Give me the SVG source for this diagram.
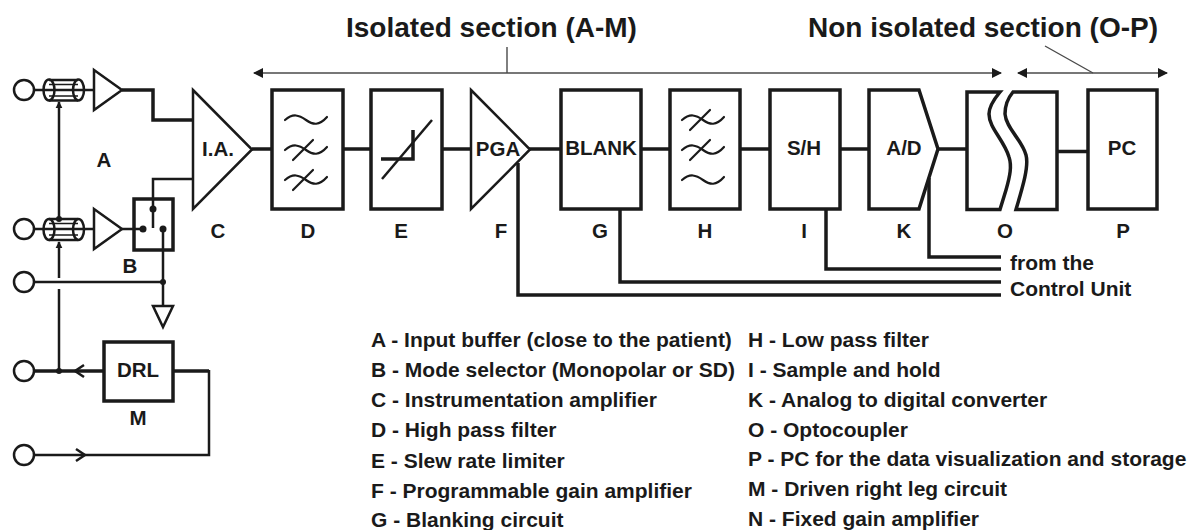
<svg xmlns="http://www.w3.org/2000/svg" width="1187" height="530" viewBox="0 0 1187 530">
<style>
text{font-family:"Liberation Sans",Arial,sans-serif;font-weight:bold;fill:#1a1a1a}
.lb{font-size:20.5px;text-anchor:middle}
.bl{font-size:20.5px;text-anchor:middle}
.lg{font-size:21px}
.ti{font-size:28px}
.b{fill:#fff;stroke:#1a1a1a;stroke-width:3.5}
.t{fill:#fff;stroke:#1a1a1a;stroke-width:2.5;stroke-linejoin:miter}
.c{fill:#fff;stroke:#1a1a1a;stroke-width:2.5}
.w{fill:none;stroke:#1a1a1a;stroke-width:3.5}
.n{fill:none;stroke:#1a1a1a;stroke-width:2.5}
.i{fill:none;stroke:#1a1a1a;stroke-width:1.5}
.f{fill:none;stroke:#4a4a4a;stroke-width:1.4}
.s{fill:none;stroke:#1a1a1a;stroke-width:2.2;stroke-linecap:round}
.d{fill:#1a1a1a}
</style>
<defs>
<marker id="ah" viewBox="0 0 10 10" refX="9" refY="5" markerWidth="11" markerHeight="10" markerUnits="userSpaceOnUse" orient="auto-start-reverse"><path d="M0,0L10,5L0,10Z" fill="#1a1a1a"/></marker>
<marker id="sh" viewBox="0 0 10 10" refX="9" refY="5" markerWidth="7" markerHeight="8" markerUnits="userSpaceOnUse" orient="auto"><path d="M0,0L10,5L0,10Z" fill="#1a1a1a"/></marker>
<path id="tilde" d="M285,0c8,-7 14,-5 21,0c7,5 13,6 21,-3"/>
<path id="tildex" d="M285,0c8,-7 14,-5 21,0c7,5 13,6 21,-3M293,10L313,-10"/>
</defs>
<g id="connectors">
<path class="n" d="M34,90H43M84,90H94"/>
<path class="n" d="M34,229H43M84,229H94"/>
<path class="w" d="M122,90H153V120H193"/>
<path class="w" d="M252,149H272M343,149H371M442,149H471M529,149H561M641,149H670M740,149H770M840,149H869M938,149H968M1057,151.500H1087"/>
<path class="n" d="M163,229V306M34,282H163"/>
<path class="n" d="M59,219V102" marker-end="url(#sh)"/>
<path class="n" d="M59,278V242" marker-end="url(#sh)"/>
<path class="n" d="M59,289V371"/>
<path class="w" d="M34,371H104"/>
<path class="n" d="M84,365L75,371L84,377"/>
<path class="w" d="M173,371H209"/>
<path class="n" d="M209,370V455H34"/>
<path class="n" d="M76,449L85,455L76,461"/>
<path class="w" d="M518,163V295H1001"/>
<path class="w" d="M620,209V282H1001"/>
<path class="w" d="M826,209V269H1001"/>
<path class="w" d="M929,178V257H1001"/>
<path class="f" d="M254,73H1001" marker-start="url(#ah)" marker-end="url(#ah)"/>
<path class="f" d="M1018,73H1167" marker-start="url(#ah)" marker-end="url(#ah)"/>
<path class="f" d="M507,47V73M1045,46L1093,73"/>
</g>
<g id="terminals">
<circle class="c" cx="24" cy="90" r="10"/>
<circle class="c" cx="24" cy="229" r="10"/>
<circle class="c" cx="24" cy="282" r="10"/>
<circle class="c" cx="24" cy="371" r="10"/>
<circle class="c" cx="24" cy="455" r="10"/>
</g>
<g id="shield-top">
<ellipse class="n" cx="49" cy="90" rx="5.500" ry="10.500"/>
<ellipse class="n" cx="78.500" cy="90" rx="5.500" ry="10.500"/>
<path class="n" d="M49,80H78M49,100.500H78"/>
<path class="i" d="M49,84.500H78M49,96H78"/>
<path class="n" d="M43,90H84"/>
</g>
<g id="shield-bottom">
<ellipse class="n" cx="49" cy="229.500" rx="5.500" ry="10.500"/>
<ellipse class="n" cx="78.500" cy="229.500" rx="5.500" ry="10.500"/>
<path class="n" d="M49,219H78M49,240H78"/>
<path class="i" d="M49,223.500H78M49,235H78"/>
<path class="n" d="M43,229H84"/>
</g>
<g id="A">
<path class="t" d="M94,70L122,90L94,110Z"/>
<path class="t" d="M94,209L122,229L94,249Z"/>
<text class="lb" x="104" y="167">A</text>
</g>
<g id="B">
<rect class="b" x="134" y="199" width="39" height="51"/>
<path class="n" d="M193,179H153V228M122,229H143M163,229V250"/>
<circle class="d" cx="143" cy="229" r="3.500"/>
<circle class="d" cx="163" cy="229" r="3.500"/>
<circle class="d" cx="153" cy="209" r="3.500"/>
<text class="lb" x="130" y="273">B</text>
</g>
<g id="ground">
<circle class="d" cx="163" cy="282" r="3"/>
<path class="t" d="M153,306H173L163,327Z"/>
</g>
<g id="junctions">
<circle class="d" cx="59" cy="219" r="3"/>
<circle class="d" cx="59" cy="371" r="3"/>
</g>
<g id="C">
<path class="t" d="M193,90L252,149.500L193,209Z"/>
<text class="bl" x="218" y="156">I.A.</text>
<text class="lb" x="218" y="238">C</text>
</g>
<g id="D">
<rect class="b" x="272" y="90" width="71" height="119"/>
<use class="s" href="#tilde" y="120"/>
<use class="s" href="#tildex" y="150"/>
<use class="s" href="#tildex" y="180"/>
<text class="lb" x="308" y="238">D</text>
</g>
<g id="E">
<rect class="b" x="371" y="90" width="71" height="119"/>
<path class="n" d="M382,179L432,120"/>
<path class="w" d="M381,159H413V130"/>
<text class="lb" x="401" y="238">E</text>
</g>
<g id="F">
<path class="t" d="M471,90L530,149.500L471,209Z"/>
<text class="bl" x="498" y="156">PGA</text>
<text class="lb" x="501" y="238">F</text>
</g>
<g id="G">
<rect class="b" x="561" y="90" width="80" height="119"/>
<text class="bl" x="601" y="155">BLANK</text>
<text class="lb" x="600" y="238">G</text>
</g>
<g id="H">
<rect class="b" x="670" y="90" width="70" height="119"/>
<use class="s" href="#tildex" x="397" y="120"/>
<use class="s" href="#tildex" x="397" y="150"/>
<use class="s" href="#tilde" x="397" y="180"/>
<text class="lb" x="705" y="238">H</text>
</g>
<g id="I">
<rect class="b" x="770" y="90" width="70" height="119"/>
<text class="bl" x="804" y="155">S/H</text>
<text class="lb" x="804" y="238">I</text>
</g>
<g id="K">
<path class="b" d="M869,90H919L938,149L919,209H869Z"/>
<text class="bl" x="904" y="155">A/D</text>
<text class="lb" x="904" y="238">K</text>
</g>
<g id="O">
<path class="b" stroke-width="3" d="M1000,92H967V209.500H1000L1006,190C1010,176 1012,166 1009,157C1004,140 989,128 989,114C989,106 995,98 1000,92Z"/>
<path class="b" stroke-width="3" d="M1057,92H1013C1008,98 1005,106 1005,114C1006,128 1022,140 1026,155C1029,166 1023,186 1016,209.500H1057Z"/>
<text class="lb" x="1005" y="238">O</text>
</g>
<g id="P">
<rect class="b" x="1088" y="90" width="69" height="119"/>
<text class="bl" x="1122" y="155">PC</text>
<text class="lb" x="1123" y="238">P</text>
</g>
<g id="M">
<rect class="b" x="104" y="342" width="69" height="59"/>
<text class="bl" x="138" y="377">DRL</text>
<text class="lb" x="138" y="425">M</text>
</g>
<g id="titles">
<text class="ti" x="346" y="37">Isolated section (A-M)</text>
<text class="ti" x="808" y="37">Non isolated section (O-P)</text>
<text class="lg" x="1010" y="270">from the</text>
<text class="lg" x="1010" y="296">Control Unit</text>
</g>
<g id="legend">
<text class="lg" x="371" y="347">A - Input buffer (close to the patient)</text>
<text class="lg" x="371" y="377">B - Mode selector (Monopolar or SD)</text>
<text class="lg" x="371" y="407">C - Instrumentation amplifier</text>
<text class="lg" x="371" y="437">D - High pass filter</text>
<text class="lg" x="371" y="468">E - Slew rate limiter</text>
<text class="lg" x="371" y="498">F - Programmable gain amplifier</text>
<text class="lg" x="371" y="527">G - Blanking circuit</text>
<text class="lg" x="748" y="347">H - Low pass filter</text>
<text class="lg" x="748" y="377">I - Sample and hold</text>
<text class="lg" x="748" y="407">K - Analog to digital converter</text>
<text class="lg" x="748" y="437">O - Optocoupler</text>
<text class="lg" x="748" y="466">P - PC for the data visualization and storage</text>
<text class="lg" x="748" y="496">M - Driven right leg circuit</text>
<text class="lg" x="748" y="526">N - Fixed gain amplifier</text>
</g>
</svg>
